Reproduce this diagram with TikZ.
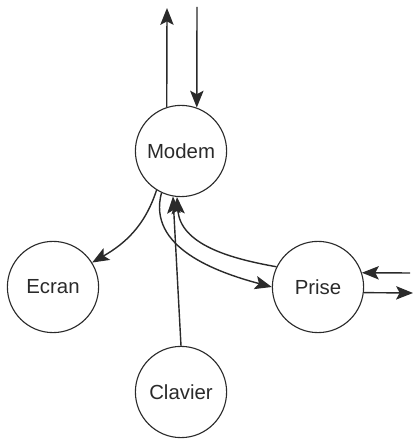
\documentclass[tikz,border=0pt]{standalone}
\usepackage{fontspec}
\setmainfont{Liberation Sans}
\usepackage{tikz}
\usetikzlibrary{arrows.meta,positioning}
\definecolor{ink}{HTML}{2A2A2A}

\begin{document}
\begin{tikzpicture}[x=0.025cm, y=0.025cm,
    bloc/.style={circle, draw=ink, line width=0.8pt, minimum size=2.28cm,
                 inner sep=0pt, text=ink, font=\fontsize{14.5}{16}\selectfont},
    arr/.style={draw=ink, line width=1pt, -{Stealth[length=12pt,width=9.5pt,inset=2.5pt]}}]
    \useasboundingbox (0,0) rectangle (413,441);

    % 节点
    \node[bloc] (Modem)   at (181,290) {Modem};
    \node[bloc] (Ecran)   at (53,154)  {Ecran};
    \node[bloc] (Prise)   at (318,154) {Prise};
    \node[bloc] (Clavier) at (181,49)  {Clavier};

    % 外部端点
    \coordinate (haut1) at (167,433);
    \coordinate (haut2) at (197,434);
    \coordinate (entree) at (410,168);
    \coordinate (sortie) at (413,148);

    % 上方连线
    \draw[arr] (Modem.108) -- (haut1);
    \draw[arr] (haut2) -- (Modem.70);

    % 下方连线
    \draw[arr] (Modem.238) to[out=-108, in=30] (Ecran.32);
    \draw[arr] (Modem.245) to[out=-105, in=165] (Prise.180);
    \draw[arr] (Prise.154) to[out=170, in=-86] (Modem.265);
    \draw[arr] (Clavier.north) -- (Modem.260);

    % 右侧连线
    \draw[arr] (entree) -- (Prise.18);
    \draw[arr] (Prise.-7) -- (sortie);
\end{tikzpicture}
\end{document}
